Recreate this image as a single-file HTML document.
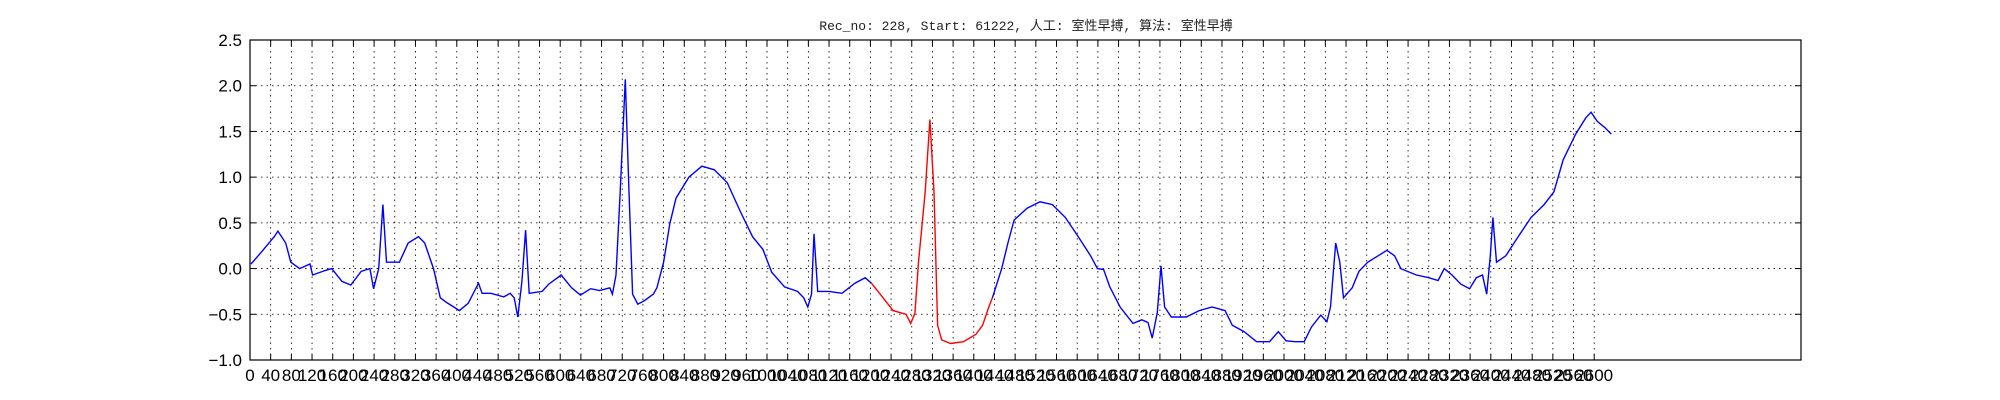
<!DOCTYPE html>
<html><head><meta charset="utf-8"><style>
body{margin:0;background:#fff;}
svg{display:block;}
</style></head><body>
<svg id="chart" width="2000" height="400" xmlns="http://www.w3.org/2000/svg">
<rect width="2000" height="400" fill="#fff"/>
<text x="1026" y="30" text-anchor="middle" font-family="'Liberation Mono','Noto Sans CJK SC',monospace" font-size="13" fill="#222">Rec_no: 228, Start: 61222, 人工: 室性早搏, 算法: 室性早搏</text>
<g id="grid"></g><g id="ticks"></g><g id="labels"></g><g id="series"></g>
<rect x="250" y="40" width="1551" height="320" fill="none" stroke="#000" stroke-width="1.2"/>
</svg>
<script>
const xTicks = [];
for (let t = 0; t <= 2600; t += 40) xTicks.push(t);
const yTicks = [-1.0, -0.5, 0.0, 0.5, 1.0, 1.5, 2.0, 2.5];
const sampleX = [2,22,47,54,69,79,96,116,121,146,158,178,195,215,232,239,249,257,264,274,289,306,326,338,355,368,380,405,422,442,449,466,491,503,511,518,526,533,540,565,578,602,622,639,659,676,696,701,708,716,726,733,740,750,763,780,787,800,812,824,849,874,898,923,948,972,992,1009,1034,1059,1071,1079,1086,1091,1098,1120,1145,1170,1190,1202,1219,1244,1269,1278,1286,1293,1306,1315,1323,1330,1338,1355,1380,1404,1417,1429,1436,1454,1466,1478,1503,1528,1552,1577,1602,1626,1639,1651,1663,1683,1708,1725,1737,1745,1755,1762,1769,1782,1811,1836,1861,1886,1900,1923,1947,1972,1989,2004,2021,2039,2053,2071,2083,2090,2100,2108,2115,2132,2145,2162,2182,2199,2214,2226,2256,2280,2298,2310,2325,2342,2359,2372,2384,2392,2399,2404,2411,2429,2453,2478,2503,2522,2540,2564,2584,2594,2606,2621,2633];
const sampleV = [0.05,0.18,0.35,0.41,0.28,0.07,0.0,0.05,-0.07,-0.02,0.0,-0.14,-0.18,-0.03,0.0,-0.22,0.0,0.7,0.07,0.07,0.07,0.28,0.35,0.28,0.0,-0.32,-0.37,-0.46,-0.38,-0.16,-0.27,-0.27,-0.31,-0.27,-0.32,-0.53,-0.14,0.42,-0.27,-0.25,-0.17,-0.07,-0.21,-0.29,-0.22,-0.24,-0.21,-0.28,-0.07,0.84,2.07,0.84,-0.28,-0.39,-0.35,-0.28,-0.21,0.07,0.49,0.77,1.0,1.12,1.08,0.94,0.63,0.35,0.21,-0.04,-0.2,-0.25,-0.32,-0.42,-0.28,0.38,-0.25,-0.25,-0.27,-0.16,-0.1,-0.16,-0.28,-0.46,-0.5,-0.6,-0.49,0.07,0.84,1.63,0.84,-0.62,-0.78,-0.82,-0.8,-0.72,-0.62,-0.42,-0.32,0.0,0.28,0.53,0.66,0.73,0.7,0.56,0.35,0.14,0.0,-0.01,-0.2,-0.42,-0.6,-0.56,-0.59,-0.76,-0.48,0.03,-0.42,-0.53,-0.53,-0.46,-0.42,-0.46,-0.62,-0.69,-0.8,-0.8,-0.69,-0.79,-0.8,-0.8,-0.64,-0.51,-0.58,-0.42,0.28,0.07,-0.32,-0.21,-0.03,0.07,0.14,0.2,0.14,0.0,-0.07,-0.1,-0.13,0.0,-0.07,-0.17,-0.22,-0.1,-0.07,-0.28,0.14,0.56,0.07,0.14,0.35,0.56,0.7,0.84,1.19,1.47,1.65,1.71,1.61,1.54,1.47];
const redStart = 1202, redEnd = 1436;

const X0=250, X1=1801, Y0=360, Y1=40, XMIN=0, XMAX=3000, YMIN=-1, YMAX=2.5;
const xs = v => X0 + (v - XMIN) / (XMAX - XMIN) * (X1 - X0);
const ys = v => Y0 - (v - YMIN) / (YMAX - YMIN) * (Y0 - Y1);
const NS = 'http://www.w3.org/2000/svg';
function mk(tag, attrs, parent){const e=document.createElementNS(NS,tag);for(const k in attrs)e.setAttribute(k,attrs[k]);document.getElementById(parent).appendChild(e);return e;}

xTicks.forEach(t => {
  const x = xs(t);
  const g = mk('line',{x1:x,x2:x,y1:Y1,y2:Y0,stroke:'#000','stroke-width':0.8,'stroke-dasharray':'1.5,4'},'grid');
  
  
  mk('line',{x1:x,x2:x,y1:Y0,y2:Y0-6,stroke:'#000','stroke-width':1},'ticks');
  mk('line',{x1:x,x2:x,y1:Y1,y2:Y1+6,stroke:'#000','stroke-width':1},'ticks');
  const l = mk('text',{x:x,y:381,'text-anchor':'middle','font-family':'Liberation Sans, sans-serif','font-size':17,fill:'#000'},'labels');
  l.textContent = t;
  
  
});
yTicks.forEach(t => {
  const y = ys(t);
  const g = mk('line',{x1:X0,x2:X1,y1:y,y2:y,stroke:'#000','stroke-width':0.8,'stroke-dasharray':'1.5,4'},'grid');
  
  
  mk('line',{x1:X0,x2:X0+6,y1:y,y2:y,stroke:'#000','stroke-width':1},'ticks');
  mk('line',{x1:X1,x2:X1-6,y1:y,y2:y,stroke:'#000','stroke-width':1},'ticks');
  const l = mk('text',{x:242,y:y+6,'text-anchor':'end','font-family':'Liberation Sans, sans-serif','font-size':17,fill:'#000'},'labels');
  l.textContent = (t<0?'\u2212':'') + Math.abs(t).toFixed(1);
  
  
});

function pts(filter){return sampleX.map((x,i)=>[x,sampleV[i]]).filter(p=>filter(p[0])).map(p=>xs(p[0]).toFixed(1)+','+ys(p[1]).toFixed(1)).join(' ');}
const b1 = mk('polyline',{points:pts(x=>x<=redStart),fill:'none',stroke:'#0000ff','stroke-width':1.4},'series');


const r = mk('polyline',{points:pts(x=>x>=redStart&&x<=redEnd),fill:'none',stroke:'#ff0000','stroke-width':1.4},'series');


const b2 = mk('polyline',{points:pts(x=>x>=redEnd),fill:'none',stroke:'#0000ff','stroke-width':1.4},'series');


</script>
</body></html>
